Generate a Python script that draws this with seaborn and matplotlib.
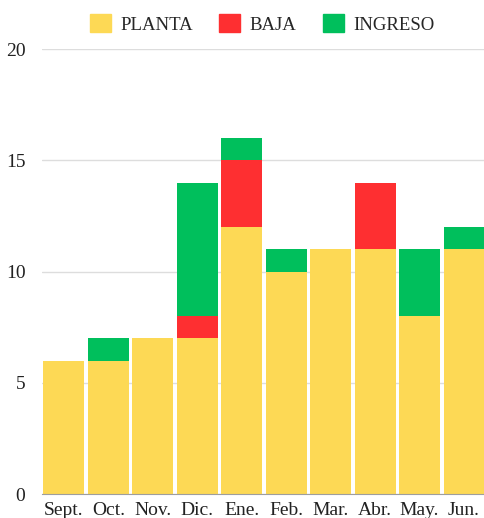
import matplotlib
matplotlib.use("Agg")
import matplotlib.pyplot as plt
import seaborn as sns
import pandas as pd

meses = ["Sept.", "Oct.", "Nov.", "Dic.", "Ene.", "Feb.", "Mar.", "Abr.", "May.", "Jun."]
planta = [6, 6, 7, 7, 12, 10, 11, 11, 8, 11]
baja = [0, 0, 0, 1, 3, 0, 0, 3, 0, 0]
ingreso = [0, 1, 0, 6, 1, 1, 0, 0, 3, 1]

colores = {"PLANTA": "#FDD955", "BAJA": "#FE2F31", "INGRESO": "#00BF5C"}

df = pd.DataFrame({"mes": meses, "PLANTA": planta, "BAJA": baja, "INGRESO": ingreso})
df["c_planta"] = df["PLANTA"]
df["c_baja"] = df["PLANTA"] + df["BAJA"]
df["c_ingreso"] = df["c_baja"] + df["INGRESO"]

sns.set_style("white")
plt.rcParams["font.family"] = ["Liberation Serif", "DejaVu Serif"]

fig = plt.figure(figsize=(4.84, 5.18), dpi=100)
ax = fig.add_axes([0.087, 0.0463, 0.913, 0.8591])

# stacked look: draw cumulative totals back to front
for col, name in [("c_ingreso", "INGRESO"), ("c_baja", "BAJA"), ("c_planta", "PLANTA")]:
    sns.barplot(data=df, x="mes", y=col, color=colores[name], width=0.92,
                saturation=1, ax=ax, linewidth=0, zorder=3)

ax.set_xlim(-0.49, 9.45)
ax.set_ylim(0, 20)
ax.set_yticks([0, 5, 10, 15, 20])
ax.yaxis.grid(True, color="#DDDDDD", linewidth=1, zorder=0)
ax.set_axisbelow(True)
for s in ["top", "right", "left"]:
    ax.spines[s].set_visible(False)
ax.spines["bottom"].set_color("#9E9E9E")
ax.spines["bottom"].set_zorder(5)
ax.tick_params(axis="both", length=0, labelsize=14, colors="#222222")
ax.tick_params(axis="y", pad=12)
ax.tick_params(axis="x", pad=6)
ax.set_xlabel("")
ax.set_ylabel("")

handles = [plt.Rectangle((0, 0), 1, 1, color=colores[n]) for n in ["PLANTA", "BAJA", "INGRESO"]]
fig.legend(handles, ["PLANTA", "BAJA", "INGRESO"], loc="center", bbox_to_anchor=(0.542, 0.954),
           ncol=3, frameon=False, fontsize=13.5, handlelength=1.12, handleheight=1.12,
           handletextpad=0.5, columnspacing=1.4)

fig.savefig("out.png", dpi=100)
